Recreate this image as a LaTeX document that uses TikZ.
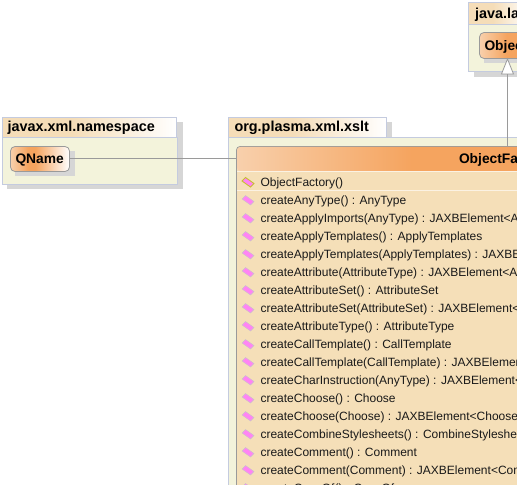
\documentclass[tikz,border=0pt]{standalone}
\usepackage{fontspec}
\setmainfont{Liberation Sans}
\definecolor{nodepale}{HTML}{F8D0AC}
\definecolor{nodeorange}{HTML}{F5A45F}
\definecolor{tabtan}{HTML}{F5DDB8}
\definecolor{pkgfill}{HTML}{F3F3DB}
\definecolor{pkgline}{HTML}{C4CBDF}
\definecolor{shadowc}{HTML}{D6D6D6}
\definecolor{classfill}{HTML}{F5DFB8}
\definecolor{edgec}{HTML}{9A9A9A}
\definecolor{methodc}{HTML}{FF84F4}
\pgfdeclarehorizontalshading{nodeshade}{100bp}{color(0bp)=(nodepale); color(25bp)=(nodepale); color(40bp)=(nodeorange); color(46bp)=(nodeorange); color(75bp)=(white); color(100bp)=(white)}
\pgfdeclarehorizontalshading{tabshade}{100bp}{color(0bp)=(tabtan); color(25bp)=(tabtan); color(45bp)=(tabtan); color(75bp)=(white); color(100bp)=(white)}
\pgfdeclarehorizontalshading{headshade}{100bp}{color(0bp)=(nodepale); color(25bp)=(nodepale); color(49bp)=(nodeorange); color(100bp)=(nodeorange)}
\tikzset{
 x=1bp,y=-1bp,
 every node/.style={inner sep=0pt,outer sep=0pt},
 pkgbody/.style={fill=pkgfill,draw=pkgline,line width=0.8bp},
 pkgtab/.style={shading=tabshade,draw=pkgline,line width=0.8bp},
 pkgtitle/.style={anchor=base west,font=\fontsize{14.4bp}{16bp}\selectfont\bfseries},
 classnode/.style={rounded corners=4.5bp,shading=nodeshade,draw=edgec,line width=0.8bp},
 classtitle/.style={anchor=base west,font=\fontsize{13.8bp}{16bp}\selectfont\bfseries},
 member/.style={anchor=base west,font=\fontsize{12bp}{14bp}\selectfont,text=black!90},
 edgeline/.style={draw=edgec,line width=0.8bp},
 gem/.style={fill=methodc,draw=black!22,line width=0.4bp},
}
\newcommand{\gemat}[1]{\path[gem] (248,#1) ++(-6,-1) -- ++(3.5,-3.5) -- ++(8.5,6) -- ++(-3.5,3.5) -- cycle;}
\begin{document}
\begin{tikzpicture}
\useasboundingbox (0,0) rectangle (517,485);
\clip (0,0) rectangle (517,485);
\fill[white] (0,0) rectangle (517,485);
% java.lang
\fill[shadowc] (474,8) rectangle (530,77);
\path[pkgtab] (468.5,2.5) rectangle (530,24.5);
\path[pkgbody] (468.5,24.5) rectangle (530,71.5);
\node[pkgtitle] (langtitle) at (475,19) {java.lang};
\fill[shadowc] (484,37) rectangle (530,63);
\path[classnode] (479.5,32.5) rectangle (570,58.5);
\node[classtitle] (objecttitle) at (484.5,51) {Object};
\coordinate (objectbottom) at (507.5,59);
% javax.xml.namespace
\fill[shadowc] (7,122) rectangle (183,189);
\path[pkgtab] (2.5,117.5) rectangle (176.5,137.5);
\path[pkgbody] (2.5,137.5) rectangle (177.5,184);
\node[pkgtitle] at (7.5,132) {javax.xml.namespace};
\fill[shadowc] (15,151) rectangle (75,176);
\path[classnode] (10.5,146.5) rectangle (69.5,171.5);
\node[classtitle] (qnametitle) at (15.5,164) {QName};
\coordinate (qnameright) at (70,158.5);
% org.plasma.xml.xslt
\fill[shadowc] (234,122) rectangle (392,137);
\path[pkgtab] (228.5,117.5) rectangle (386.5,137.5);
\path[pkgbody] (228.5,137.5) rectangle (530,500);
\node[pkgtitle] at (234.5,132) {org.plasma.xml.xslt};
% ObjectFactory class
\path[fill=classfill,draw=edgec,line width=0.8bp,rounded corners=3.5bp] (236.5,146.5) rectangle (600,500);
\path[shading=headshade,rounded corners=3.5bp] (237,147) rectangle (600,171);
\draw[white!60!classfill,line width=0.8bp] (237,171.5) -- (517,171.5);
\draw[white!60!classfill,line width=0.8bp] (237,190.5) -- (517,190.5);
\node[classtitle] (factorytitle) at (459,164) {ObjectFactory};
\coordinate (factoryleft) at (236.5,158.5);
\coordinate (factorytop) at (507.5,146.5);
\path[fill=methodc,draw=yellow!75!black,line width=0.9bp] (248,182) ++(-6,-1) -- ++(3.5,-3.5) -- ++(8.5,6) -- ++(-3.5,3.5) -- cycle;
\node[member] at (260.5,186.5) {ObjectFactory()};
\foreach \yy/\txt in {
 200/{createAnyType() : AnyType},
 218/{createApplyImports(AnyType) : JAXBElement<AnyType>},
 236/{createApplyTemplates() : ApplyTemplates},
 254/{createApplyTemplates(ApplyTemplates) : JAXBElement<ApplyTemplates>},
 272/{createAttribute(AttributeType) : JAXBElement<AttributeType>},
 290/{createAttributeSet() : AttributeSet},
 308/{createAttributeSet(AttributeSet) : JAXBElement<AttributeSet>},
 326/{createAttributeType() : AttributeType},
 344/{createCallTemplate() : CallTemplate},
 362/{createCallTemplate(CallTemplate) : JAXBElement<CallTemplate>},
 380/{createCharInstruction(AnyType) : JAXBElement<AnyType>},
 398/{createChoose() : Choose},
 416/{createChoose(Choose) : JAXBElement<Choose>},
 434/{createCombineStylesheets() : CombineStylesheets},
 452/{createComment() : Comment},
 470/{createComment(Comment) : JAXBElement<Comment>},
 488/{createCopyOf() : CopyOf}}
 {\gemat{\yy}\node[member] at (260.5,\yy+4.5) {\txt};}
% connectors
\draw[edgeline] (qnameright) -- (factoryleft);
\draw[edgeline] (factorytop) -- (507.5,74);
\path[fill=white,draw=edgec,line width=0.8bp] (objectbottom) -- (501.5,74) -- (513.5,74) -- cycle;
\end{tikzpicture}
\end{document}
